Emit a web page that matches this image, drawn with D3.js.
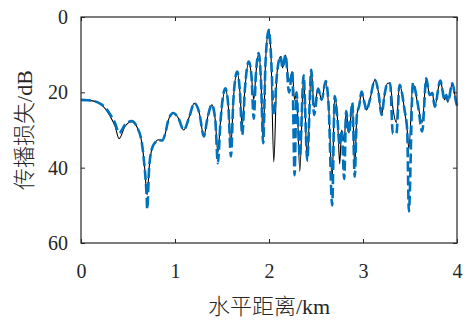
<!DOCTYPE html>
<html>
<head>
<meta charset="utf-8">
<script src="https://cdn.jsdelivr.net/npm/d3@7/dist/d3.min.js"></script>
<style>
  html, body { margin: 0; padding: 0; background: #fff; }
  svg text { font-family: "Liberation Serif", "Noto Sans CJK SC", serif; fill: #262626; }
</style>
</head>
<body>
<svg id="chart" width="466" height="320"></svg>
<script>
// Horizontal range (km)
const distance = [
  0.000, 0.075, 0.149, 0.203, 0.256, 0.309, 0.363, 0.405, 0.469, 0.539,
  0.597, 0.647, 0.672, 0.699, 0.704, 0.725, 0.754, 0.789, 0.821, 0.864,
  0.896, 0.928, 0.981, 1.035, 1.093, 1.152, 1.205, 1.259, 1.307, 1.344,
  1.392, 1.429, 1.456, 1.483, 1.536, 1.568, 1.595, 1.621, 1.661, 1.691,
  1.715, 1.744, 1.785, 1.813, 1.838, 1.861, 1.891, 1.915, 1.938, 1.963,
  1.998, 2.021, 2.051, 2.085, 2.123, 2.144, 2.176, 2.213, 2.248, 2.272,
  2.293, 2.328, 2.368, 2.407, 2.450, 2.480, 2.523, 2.560, 2.603, 2.635,
  2.672, 2.699, 2.731, 2.752, 2.773, 2.800, 2.821, 2.851, 2.887, 2.912,
  2.935, 2.960, 2.985, 3.013, 3.037, 3.073, 3.127, 3.163, 3.198, 3.227,
  3.261, 3.289, 3.317, 3.355, 3.389, 3.442, 3.470, 3.488, 3.531, 3.584,
  3.630, 3.673, 3.709, 3.737, 3.763, 3.822, 3.869, 3.886, 3.904, 3.950,
  3.993, 4.000
];

// Transmission loss (dB), reference solution (solid black)
const lossReference = [
  22.0, 22.1, 22.4, 23.0, 24.3, 26.3, 29.0, 32.3, 29.0, 27.8,
  29.3, 33.4, 38.5, 46.5, 47.2, 40.0, 35.0, 33.3, 32.6, 32.8,
  31.0, 27.5, 25.5, 26.8, 30.0, 26.5, 22.9, 25.5, 31.7, 27.0,
  23.3, 27.5, 36.0, 28.0, 18.9, 24.0, 34.0, 22.0, 14.5, 20.0,
  29.0, 19.0, 11.8, 15.5, 22.0, 15.0, 9.6, 17.0, 33.0, 12.0,
  3.4, 10.0, 38.5, 15.0, 10.5, 13.5, 10.1, 17.0, 14.5, 22.0,
  20.0, 41.0, 15.5, 38.4, 14.0, 24.0, 19.0, 22.0, 17.0, 24.0,
  43.0, 21.0, 28.0, 39.0, 30.0, 33.0, 25.0, 30.8, 22.8, 40.0,
  26.0, 23.5, 19.8, 22.5, 24.7, 22.0, 16.7, 19.8, 26.0, 21.0,
  17.6, 17.6, 24.0, 28.0, 18.0, 24.7, 30.0, 35.0, 17.6, 23.3,
  28.0, 16.3, 20.7, 20.2, 23.8, 16.9, 22.0, 20.7, 22.5, 17.6,
  22.9, 23.5
];

// Transmission loss (dB), computed model (dashed blue)
const lossModel = [
  22.0, 22.1, 22.4, 23.0, 24.0, 25.8, 28.2, 30.8, 28.6, 27.6,
  29.3, 33.4, 38.8, 48.0, 51.0, 40.0, 35.0, 33.3, 32.6, 32.8,
  31.0, 27.5, 25.5, 26.8, 30.0, 26.5, 22.9, 25.5, 31.7, 27.0,
  23.3, 27.5, 38.8, 28.0, 18.9, 24.0, 37.0, 22.0, 14.5, 20.0,
  31.3, 19.0, 11.8, 15.5, 27.0, 15.0, 9.6, 17.0, 33.5, 12.0,
  3.4, 10.0, 26.0, 15.0, 10.5, 13.5, 10.1, 20.0, 14.5, 42.0,
  20.0, 37.0, 15.5, 38.0, 14.0, 26.0, 19.0, 22.0, 17.0, 24.0,
  50.0, 21.0, 28.0, 34.0, 30.0, 43.0, 25.0, 30.8, 22.8, 42.4,
  26.0, 23.5, 19.8, 22.5, 24.7, 22.0, 16.7, 19.8, 26.0, 21.0,
  17.6, 17.6, 31.0, 31.0, 18.0, 24.7, 30.0, 51.6, 17.6, 23.3,
  30.4, 16.3, 20.7, 20.2, 23.8, 16.9, 22.0, 20.7, 22.5, 17.6,
  22.9, 23.5
];

const xTicks = [0, 1, 2, 3, 4];
const yTicks = [0, 20, 40, 60];
const xTitle = "水平距离/km";
const yTitle = "传播损失/dB";

const svg = d3.select("#chart");
const plot = { left: 81, right: 457, top: 17, bottom: 243 };

const x = d3.scaleLinear().domain([0, 4]).range([plot.left, plot.right]);
const y = d3.scaleLinear().domain([0, 60]).range([plot.top, plot.bottom]);

const frameColor = "#262626";
const tickLen = 4;

// Curves
const lineGen = (vals) => d3.line()
  .x((d, i) => x(distance[i]))
  .y((d) => y(d))
  .curve(d3.curveMonotoneX)(vals);

svg.append("path")
  .attr("d", lineGen(lossReference))
  .attr("fill", "none")
  .attr("stroke", "#000")
  .attr("stroke-width", 1.1)
  .attr("stroke-linejoin", "round");

svg.append("path")
  .attr("d", lineGen(lossModel))
  .attr("fill", "none")
  .attr("stroke", "#0072BD")
  .attr("stroke-width", 2.6)
  .attr("stroke-dasharray", "10,4")
  .attr("stroke-linejoin", "round");

// Axes (ticks point inward on all four sides)
function styleAxis(g) {
  g.select(".domain").remove();
  g.selectAll(".tick line").attr("stroke", frameColor).attr("stroke-width", 1);
  g.selectAll(".tick text").attr("font-size", 20).attr("fill", "#333")
    .style("font-family", "'Liberation Serif', serif");
}

svg.append("g")
  .attr("transform", `translate(0,${plot.bottom})`)
  .call(d3.axisBottom(x).tickValues(xTicks).tickFormat(d3.format("d"))
    .tickSizeInner(-tickLen).tickSizeOuter(0).tickPadding(21))
  .call(styleAxis);

svg.append("g")
  .attr("transform", `translate(0,${plot.top})`)
  .call(d3.axisTop(x).tickValues(xTicks).tickFormat("")
    .tickSizeInner(-tickLen).tickSizeOuter(0))
  .call(styleAxis);

svg.append("g")
  .attr("transform", `translate(${plot.left},0)`)
  .call(d3.axisLeft(y).tickValues(yTicks).tickFormat(d3.format("d"))
    .tickSizeInner(-tickLen).tickSizeOuter(0).tickPadding(13))
  .call(styleAxis);

svg.append("g")
  .attr("transform", `translate(${plot.right},0)`)
  .call(d3.axisRight(y).tickValues(yTicks).tickFormat("")
    .tickSizeInner(-tickLen).tickSizeOuter(0))
  .call(styleAxis);

// Box
svg.append("rect")
  .attr("x", plot.left).attr("y", plot.top)
  .attr("width", plot.right - plot.left).attr("height", plot.bottom - plot.top)
  .attr("fill", "none").attr("stroke", frameColor).attr("stroke-width", 1.2);

// Axis titles
svg.append("text")
  .attr("x", (plot.left + plot.right) / 2)
  .attr("y", 306)
  .attr("text-anchor", "middle")
  .attr("dominant-baseline", "central")
  .attr("font-size", 22)
  .attr("font-weight", 300)
  .attr("fill", "#333")
  .text(xTitle);

svg.append("text")
  .attr("transform", `translate(24,${(plot.top + plot.bottom) / 2}) rotate(-90)`)
  .attr("text-anchor", "middle")
  .attr("dominant-baseline", "central")
  .attr("font-size", 22)
  .attr("font-weight", 300)
  .attr("fill", "#333")
  .text(yTitle);
</script>
</body>
</html>
